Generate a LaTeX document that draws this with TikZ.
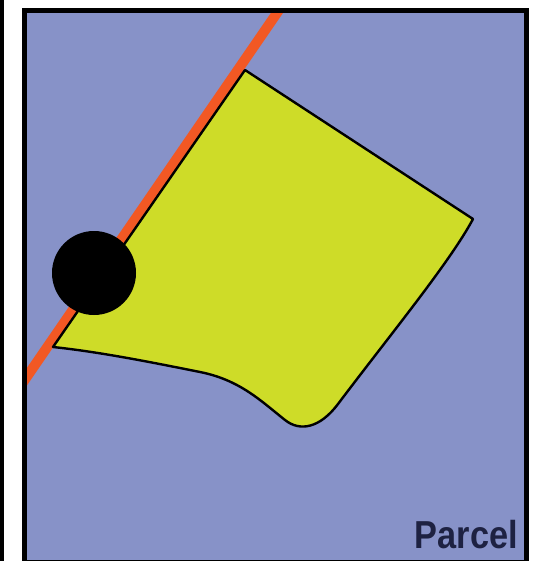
\documentclass[tikz,border=0pt]{standalone}
\usepackage{fontspec}
\setmainfont{Liberation Sans}
\definecolor{bgblue}{RGB}{135,146,200}
\definecolor{parcelyellow}{RGB}{206,220,40}
\definecolor{roadorange}{RGB}{242,88,36}
\definecolor{labelnavy}{RGB}{30,34,66}
\tikzset{
  frame/.style={draw=black, line width=5pt},
  parcelshape/.style={fill=parcelyellow, draw=black, line width=2.4pt, line join=round},
  road/.style={draw=roadorange, line width=10pt},
  well/.style={circle, fill=black, minimum size=84pt, inner sep=0pt},
  label/.style={text=labelnavy, font=\bfseries\fontsize{39}{39}\selectfont, inner sep=0pt}
}
\begin{document}
\begin{tikzpicture}[x=1pt,y=-1pt]
\useasboundingbox (0,0) rectangle (537,561);
\fill[white] (0,0) rectangle (537,561);
\fill[black] (0,0) rectangle (4,561);
% background parcel area
\fill[bgblue] (24.5,10.5) rectangle (526,562);
% road
\begin{scope}
  \clip (24.5,10.5) rectangle (526,562);
  \coordinate (r1) at (290,-6);
  \coordinate (r2) at (15,394);
  \draw[road] (r1) -- (r2);
\end{scope}
% yellow parcel
\draw[parcelshape] (245,70) -- (473,219)
  .. controls (450,262) and (390,335) .. (338,404)
  .. controls (320,428) and (300,432) .. (285,420)
  .. controls (261,401) and (240,380) .. (200,372)
  .. controls (150,362) and (100,352) .. (53,347) -- cycle;
% black circle
\node[well] (w) at (94,273) {};
% frame
\draw[frame] (24.5,10.5) rectangle (526,562);
% label
\node[label, anchor=base east] (lbl) at (518,548) {\scalebox{0.88}[1]{Parcel}};
\end{tikzpicture}
\end{document}
